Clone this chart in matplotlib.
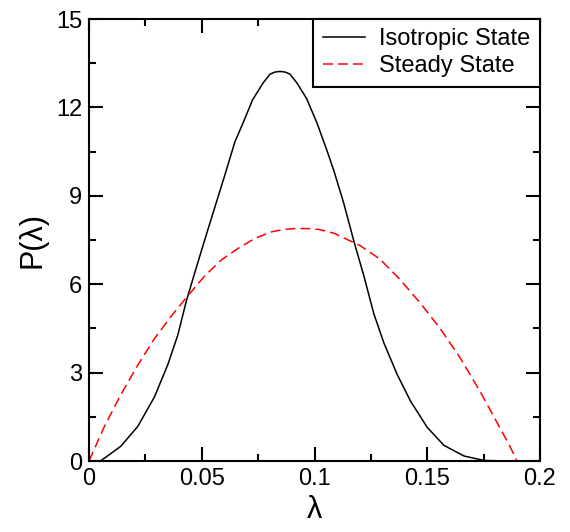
import matplotlib
matplotlib.use('Agg')
import matplotlib.pyplot as plt
from matplotlib.ticker import MultipleLocator, FormatStrFormatter

plt.rcParams['font.family'] = ['Liberation Sans', 'DejaVu Sans']

# values
iso_x = [0, 0.005, 0.0082, 0.0141, 0.0216, 0.029, 0.035, 0.0394, 0.0432, 0.0469,
         0.0513, 0.0558, 0.0603, 0.0647, 0.0683, 0.0725, 0.0772, 0.0803, 0.0825,
         0.0847, 0.087, 0.0891, 0.0922, 0.0965, 0.1011, 0.1056, 0.1086, 0.113,
         0.1175, 0.1219, 0.1263, 0.1308, 0.1367, 0.1426, 0.15, 0.1574, 0.1663,
         0.1751, 0.185, 0.2]
iso_y = [0, 0.0, 0.17, 0.5, 1.17, 2.17, 3.28, 4.28, 5.44, 6.39,
         7.5, 8.61, 9.72, 10.83, 11.47, 12.25, 12.83, 13.13, 13.2,
         13.22, 13.2, 13.13, 12.83, 12.3, 11.47, 10.52, 9.85, 8.74,
         7.45, 6.28, 5.0, 4.0, 2.93, 2.03, 1.14, 0.53, 0.17,
         0.02, 0, 0]

steady_x = [0, 0.0067, 0.0141, 0.0216, 0.029, 0.0365, 0.0432, 0.0513, 0.0588,
            0.0662, 0.0737, 0.0811, 0.0865, 0.0915, 0.0965, 0.1019, 0.1086,
            0.12, 0.1289, 0.1378, 0.1467, 0.1557, 0.1646, 0.1735, 0.1824,
            0.186, 0.1898]
steady_y = [0, 1.15, 2.25, 3.25, 4.15, 4.92, 5.55, 6.28, 6.83,
            7.22, 7.56, 7.78, 7.86, 7.89, 7.89, 7.86, 7.73,
            7.32, 6.86, 6.17, 5.38, 4.5, 3.5, 2.35, 1.1,
            0.6, 0]

fig = plt.figure(figsize=(5.7, 5.32), dpi=100)
ax = fig.add_axes([89/570, 71/532, 451/570, 442/532])

ax.plot(iso_x, iso_y, color='black', lw=1.1, label='Isotropic State')
ax.plot(steady_x, steady_y, color='red', lw=1.1, linestyle=(0, (6.5, 3.3)),
        label='Steady State')

ax.set_xlim(0, 0.2)
ax.set_ylim(0, 15)
ax.xaxis.set_major_locator(MultipleLocator(0.05))
ax.xaxis.set_minor_locator(MultipleLocator(0.025))
ax.yaxis.set_major_locator(MultipleLocator(3))
ax.yaxis.set_minor_locator(MultipleLocator(1.5))
ax.xaxis.set_major_formatter(FormatStrFormatter('%g'))

ax.tick_params(which='both', direction='in', top=True, right=True, width=1.5)
ax.tick_params(which='major', length=10, labelsize=17, pad=5)
ax.tick_params(which='minor', length=5)
for s in ax.spines.values():
    s.set_linewidth(1.5)

ax.set_xlabel('λ', fontsize=22, labelpad=4)
ax.set_ylabel('P(λ)', fontsize=22, labelpad=6)

leg = ax.legend(loc='upper right', fontsize=17, frameon=True, fancybox=False,
                borderaxespad=0, handlelength=1.8, handletextpad=0.6,
                borderpad=0.4, labelspacing=0.2)
leg.get_frame().set_edgecolor('black')
leg.get_frame().set_linewidth(1.5)
leg.get_frame().set_alpha(1)

fig.savefig('out.png', dpi=100)
